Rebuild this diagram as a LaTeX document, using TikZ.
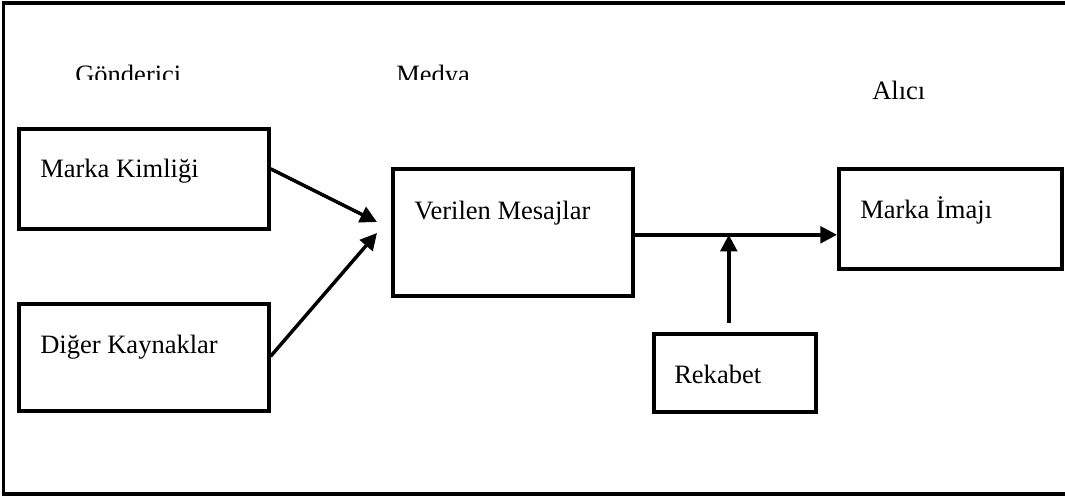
\documentclass[tikz,border=0pt]{standalone}
\usepackage{fontspec}
\setmainfont{Liberation Serif}
\usetikzlibrary{arrows.meta,calc}
\begin{document}
\begin{tikzpicture}[x=0.75pt,y=-0.75pt,
  box/.style={draw,line width=2.7pt,rectangle,inner sep=0pt,anchor=north west},
  lbl/.style={anchor=base west,inner sep=0pt,font=\fontsize{19.9}{24}\selectfont},
  arr/.style={line width=2.6pt,-{Triangle[length=12.5pt,width=12.5pt]}},
  frame/.style={line width=2.6pt}]
\useasboundingbox (0,0) rectangle (1065,497);
\draw[frame] (1070,3) -- (3.5,3) -- (3.5,494) -- (1070,494);
% boxes
\node[box,minimum width=250*0.75pt,minimum height=100*0.75pt] (mk) at (17,127) {};
\node[box,minimum width=250*0.75pt,minimum height=107*0.75pt] (dk) at (17,302) {};
\node[box,minimum width=240*0.75pt,minimum height=127*0.75pt] (vm) at (391,167) {};
\node[box,minimum width=223*0.75pt,minimum height=100*0.75pt] (mi) at (837,167) {};
\node[box,minimum width=162*0.75pt,minimum height=78*0.75pt] (rk) at (652,332) {};
% texts
\node[lbl] (tmk) at (40,177) {Marka Kimliği};
\node[lbl] (tdk) at (40,353) {Diğer Kaynaklar};
\node[lbl] (tvm) at (414,219) {Verilen Mesajlar};
\node[lbl] (tmi) at (860,218) {Marka İmajı};
\node[lbl] (trk) at (674,383) {Rekabet};
\node[lbl] (tal) at (872,99) {Alıcı};
\begin{scope}
\clip (0,0) rectangle (1065,79);
\node[lbl] (tgo) at (75,83) {Gönderici};
\node[lbl] (tme) at (396,83) {Medya};
\end{scope}
% connectors
\coordinate (j1) at (377,222);
\coordinate (j2) at (377,233);
\draw[arr] ($(mk.east)+(0,-10)$) -- (j1);
\draw[arr] ($(dk.east)+(0,-1)$) -- (j2);
\coordinate (h) at ($(vm.east)+(0,2.5)$);
\draw[arr] (h) -- (h -| mi.west);
\coordinate (r) at ($(rk.north)+(-6,-9)$);
\draw[arr] (r) -- (r |- h);
\end{tikzpicture}
\end{document}
